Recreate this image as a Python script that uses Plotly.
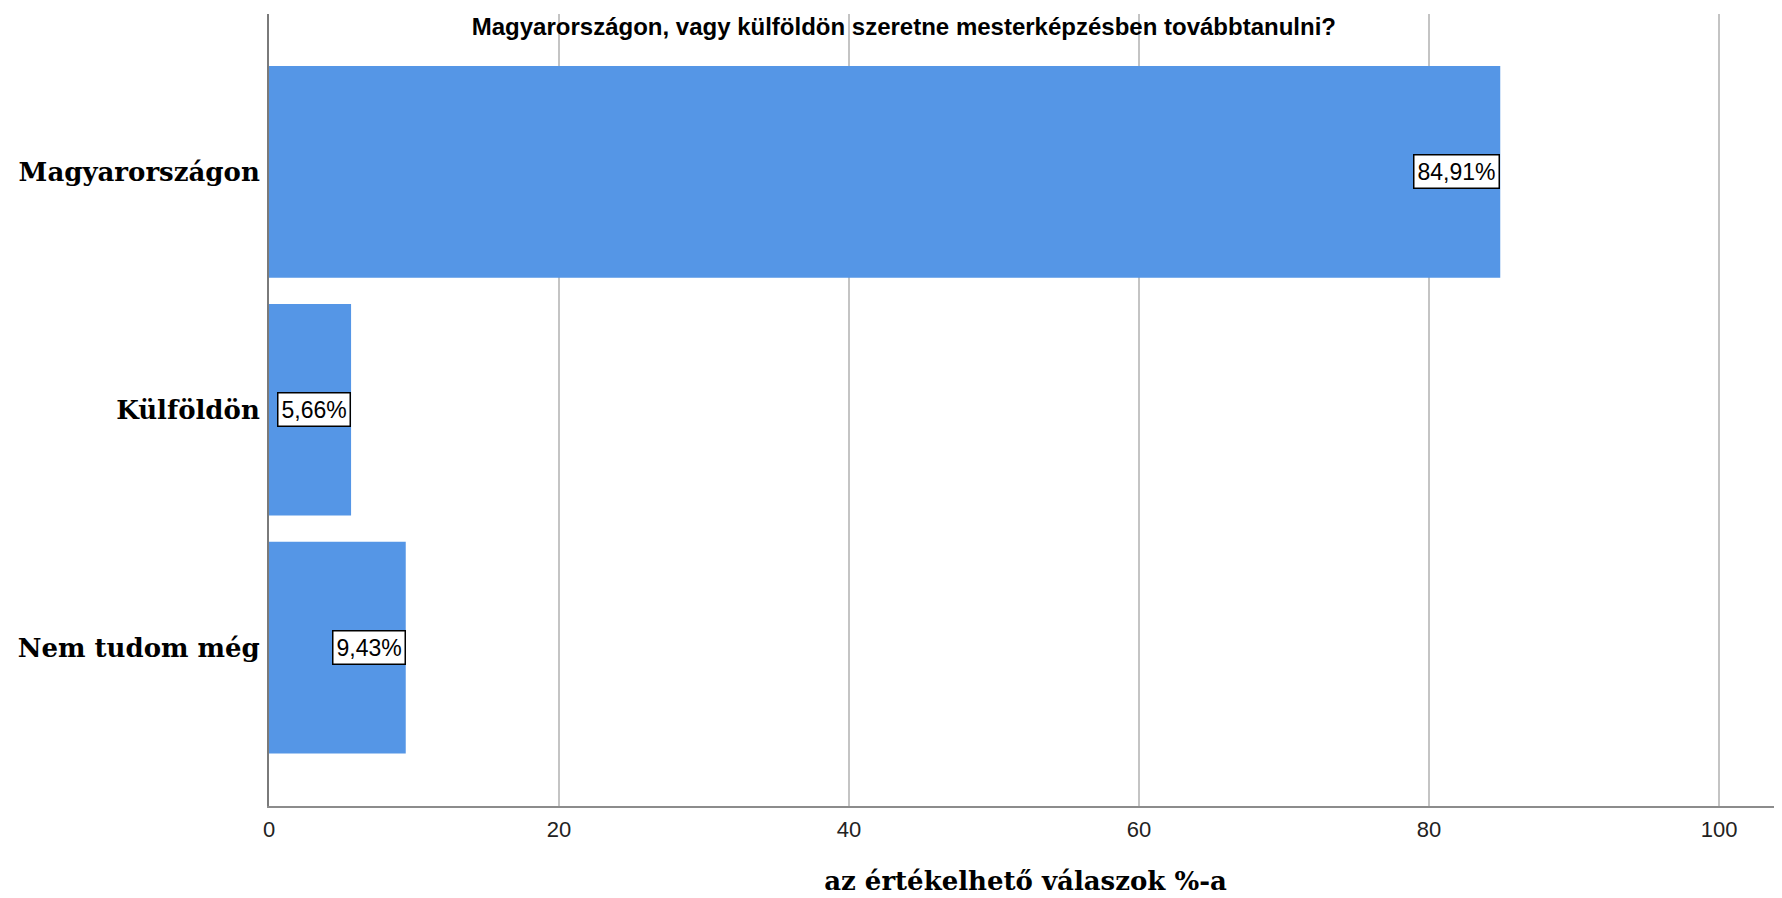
import plotly.graph_objects as go

categories = ["Magyarországon", "Külföldön", "Nem tudom még"]
values = [84.91, 5.66, 9.43]
x_ticks = [0, 20, 40, 60, 80, 100]
title_text = "Magyarországon, vagy külföldön szeretne mesterképzésben továbbtanulni?"
x_title = "az értékelhető válaszok %-a"

BAR_COLOR = "#5596e6"

fig = go.Figure()
fig.add_trace(go.Bar(
    y=categories, x=values, orientation="h",
    marker=dict(color=BAR_COLOR, line=dict(width=0)),
    width=0.89, hoverinfo="skip",
))

for c, v in zip(categories, values):
    fig.add_annotation(
        x=v, y=c, xref="x", yref="y",
        text=f"{v:.2f}".replace(".", ",") + "%",
        showarrow=False, xanchor="right", yanchor="middle",
        font=dict(family="Liberation Sans, Arial", size=23, color="black"),
        bgcolor="white", bordercolor="black", borderwidth=1.5, borderpad=3,
    )

# page body has an 8px margin: compensate so plot lands where the reference has it
fig.update_layout(
    width=1774, height=890,
    margin=dict(l=261, r=0, t=6, b=92, autoexpand=False),
    paper_bgcolor="white", plot_bgcolor="white",
    showlegend=False,
    title=dict(
        text=title_text, x=0.505, xanchor="center", xref="container",
        y=1 - 10 / 890, yanchor="top", yref="container",
        font=dict(family="Liberation Sans, Arial", size=24, color="black", weight="bold"),
    ),
    xaxis=dict(
        range=[0, 104.34], tickvals=x_ticks, ticktext=[str(t) for t in x_ticks],
        showgrid=True, gridcolor="#c4c4c4", gridwidth=2,
        zeroline=False, showline=True, linecolor="#8c8c8c", linewidth=2,
        ticks="", automargin=False, ticklabelstandoff=3,
        tickfont=dict(family="Liberation Sans, Arial", size=22, color="#222"),
        title=dict(text=x_title, standoff=30,
                   font=dict(family="DejaVu Serif", size=26, color="black", weight="bold")),
    ),
    yaxis=dict(
        type="category", categoryorder="array", categoryarray=categories,
        range=[2.666, -0.664], automargin=False,
        showgrid=False, zeroline=False, showline=True, linecolor="#7a7a7a", linewidth=2,
        ticks="", ticklabelstandoff=2,
        tickfont=dict(family="DejaVu Serif", size=26, color="black", weight="bold"),
    ),
)

fig.write_html("out.html")
